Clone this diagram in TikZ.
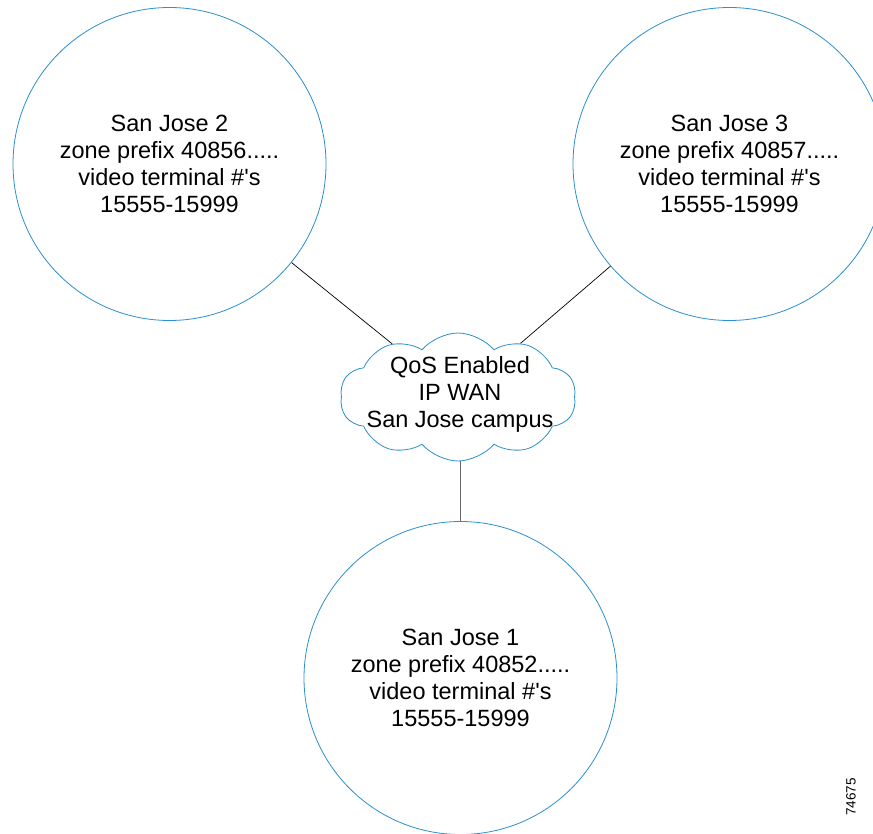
\documentclass[tikz,border=0pt]{standalone}
\usepackage{fontspec}
\setmainfont{Liberation Sans}
\definecolor{zoneBlue}{HTML}{2A8FCB}
\definecolor{linkGray}{HTML}{666666}
\usetikzlibrary{shapes.symbols}
\newcommand{\zonetext}[2]{San Jose #1\\zone prefix #2.....\\video terminal \#\textquotesingle s\\15555-15999}

\begin{document}
\begin{tikzpicture}[x=1pt, y=-1pt,
  zone/.style={circle, draw=zoneBlue, line width=0.8pt, minimum size=313pt,
    inner sep=0pt, align=center, font=\fontsize{23.5}{27}\selectfont},
  wanbox/.style={cloud, cloud puffs=10, cloud puff arc=100, aspect=1.8,
    draw=zoneBlue, line width=0.8pt, minimum width=236pt, minimum height=128pt,
    inner sep=0pt},
  link/.style={draw=black, line width=0.7pt}
]
  \useasboundingbox (0,0) rectangle (873,834);

  \node[zone] (sj2) at (169.5,164) {\zonetext{2}{40856}};
  \node[zone] (sj3) at (729.5,164) {\zonetext{3}{40857}};
  \node[zone] (sj1) at (460.5,678) {\zonetext{1}{40852}};

  \node[wanbox] (wan) at (458,397) {};
  \node[align=center, font=\fontsize{23.5}{27}\selectfont] (wantext) at (460,394)
    {QoS Enabled\\IP WAN\\San Jose campus};

  \draw[link] (sj2) -- (wan);
  \draw[link] (sj3) -- (wan);
  \draw[link, draw=linkGray, line width=1.2pt] (wan.south -| sj1) -- (sj1);

  \node[rotate=90, font=\fontsize{13.5}{16}\selectfont] (figid) at (851,797) {74675};
\end{tikzpicture}
\end{document}
